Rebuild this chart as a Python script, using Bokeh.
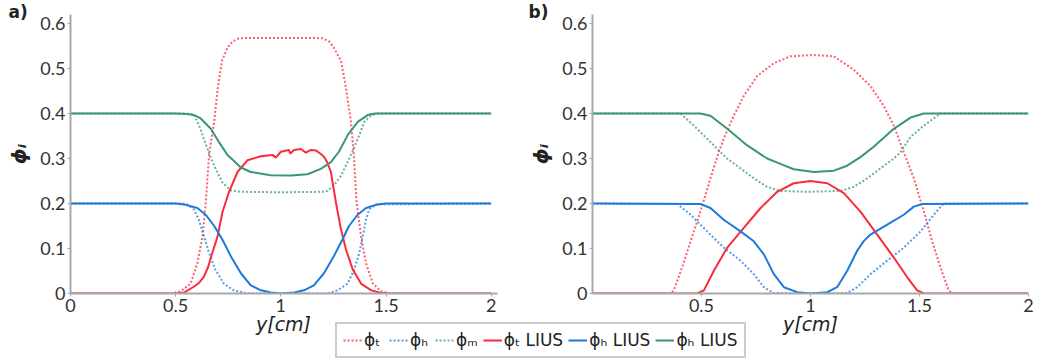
from bokeh.plotting import figure
from bokeh.models import Range1d, FixedTicker, Label, Legend, LegendItem
from bokeh.layouts import column, row
from bokeh.embed import file_html
from bokeh.resources import INLINE

# ---------------- data ----------------
# panel a)
xa_T = [0, 0.48, 0.524, 0.571, 0.603, 0.628, 0.643, 0.659, 0.683, 0.70, 0.72, 0.746, 0.77, 0.80, 0.85, 1.0,
        1.15, 1.20, 1.23, 1.252, 1.286, 1.31, 1.333, 1.347, 1.36, 1.381, 1.405, 1.438, 1.476, 1.52, 2]
ya_T = [0, 0, 0.005, 0.022, 0.067, 0.128, 0.202, 0.31, 0.382, 0.456, 0.517, 0.546, 0.560, 0.567, 0.568, 0.568,
        0.568, 0.567, 0.560, 0.546, 0.517, 0.456, 0.382, 0.308, 0.202, 0.128, 0.067, 0.022, 0.005, 0, 0]
xa_H = [0, 0.52, 0.556, 0.586, 0.61, 0.634, 0.659, 0.69, 0.729, 0.776, 0.84, 1.0, 1.22, 1.27, 1.317, 1.348,
        1.373, 1.39, 1.405, 1.42, 1.452, 2]
ya_H = [0.2, 0.2, 0.198, 0.187, 0.164, 0.128, 0.09, 0.052, 0.022, 0.007, 0, 0, 0, 0.007, 0.022, 0.052,
        0.09, 0.128, 0.164, 0.187, 0.198, 0.2]
xa_M = [0, 0.55, 0.586, 0.61, 0.634, 0.66, 0.69, 0.722, 0.762, 0.81, 1.0, 1.2, 1.22, 1.252, 1.286, 1.317,
        1.343, 1.373, 1.397, 1.429, 1.46, 2]
ya_M = [0.4, 0.4, 0.398, 0.375, 0.344, 0.31, 0.277, 0.247, 0.229, 0.226, 0.225, 0.226, 0.228, 0.24, 0.262, 0.292,
        0.318, 0.352, 0.382, 0.396, 0.4, 0.4]
xa_TL = [0, 0.50, 0.54, 0.586, 0.612, 0.634, 0.655, 0.674, 0.70, 0.722, 0.753, 0.794, 0.841, 0.905, 0.96, 0.976,
         1.0, 1.038, 1.045, 1.063, 1.095, 1.119, 1.143, 1.167, 1.19, 1.205, 1.22, 1.238, 1.262, 1.286, 1.31,
         1.343, 1.381, 1.43, 1.476, 1.52, 2]
ya_TL = [0, 0, 0.002, 0.015, 0.024, 0.037, 0.06, 0.09, 0.128, 0.18, 0.225, 0.27, 0.296, 0.305, 0.308, 0.302,
         0.315, 0.319, 0.311, 0.319, 0.321, 0.313, 0.319, 0.318, 0.31, 0.304, 0.292, 0.27, 0.202, 0.142, 0.097,
         0.052, 0.022, 0.007, 0.001, 0, 0]
xa_HL = [0, 0.50, 0.54, 0.603, 0.643, 0.683, 0.722, 0.762, 0.81, 0.857, 0.905, 0.952, 1.0, 1.063, 1.11, 1.157,
         1.205, 1.252, 1.293, 1.324, 1.365, 1.405, 1.46, 1.5, 2]
ya_HL = [0.2, 0.2, 0.198, 0.19, 0.175, 0.15, 0.12, 0.083, 0.045, 0.018, 0.007, 0.002, 0, 0.002, 0.007, 0.018,
         0.045, 0.083, 0.12, 0.15, 0.175, 0.19, 0.198, 0.2, 0.2]
xa_ML = [0, 0.50, 0.556, 0.59, 0.619, 0.667, 0.705, 0.746, 0.771, 0.81, 0.857, 0.952, 1.048, 1.127, 1.19,
         1.238, 1.276, 1.319, 1.367, 1.414, 1.45, 2]
ya_ML = [0.4, 0.4, 0.399, 0.396, 0.389, 0.366, 0.337, 0.308, 0.297, 0.28, 0.27, 0.263, 0.262, 0.265, 0.277,
         0.292, 0.315, 0.353, 0.382, 0.397, 0.4, 0.4]

# panel b)
xb_T = [0, 0.358, 0.373, 0.411, 0.45, 0.495, 0.541, 0.579, 0.602, 0.648, 0.694, 0.755, 0.832, 0.908, 1.008,
        1.107, 1.199, 1.275, 1.336, 1.382, 1.428, 1.474, 1.52, 1.558, 1.596, 1.634, 1.65, 2]
yb_T = [0, 0, 0.007, 0.058, 0.116, 0.182, 0.256, 0.314, 0.344, 0.395, 0.439, 0.483, 0.512, 0.527, 0.530,
        0.527, 0.497, 0.461, 0.417, 0.373, 0.314, 0.256, 0.182, 0.116, 0.058, 0.007, 0, 0]
xb_H = [0, 0.389, 0.45, 0.526, 0.602, 0.679, 0.74, 0.786, 0.832, 1.0, 1.168, 1.214, 1.275, 1.352, 1.428,
        1.505, 1.566, 1.604, 1.62, 2]
yb_H = [0.2, 0.199, 0.175, 0.138, 0.102, 0.073, 0.043, 0.014, 0.001, 0, 0.001, 0.014, 0.043, 0.073, 0.102,
        0.138, 0.175, 0.197, 0.2, 0.2]
xb_M = [0, 0.404, 0.465, 0.526, 0.587, 0.618, 0.679, 0.74, 0.801, 0.862, 0.985, 1.138, 1.199, 1.26, 1.321,
        1.382, 1.413, 1.459, 1.52, 1.596, 2]
yb_M = [0.4, 0.4, 0.373, 0.344, 0.314, 0.30, 0.278, 0.256, 0.237, 0.228, 0.226, 0.228, 0.237, 0.256, 0.278,
        0.30, 0.314, 0.348, 0.373, 0.4, 0.4]
xb_TL = [0, 0.48, 0.511, 0.556, 0.618, 0.694, 0.771, 0.847, 0.923, 1.0, 1.077, 1.153, 1.229, 1.306, 1.382,
         1.444, 1.489, 1.52, 2]
yb_TL = [0, 0, 0.007, 0.05, 0.102, 0.146, 0.19, 0.226, 0.245, 0.25, 0.245, 0.223, 0.182, 0.131, 0.08,
         0.036, 0.007, 0, 0]
xb_HL = [0, 0.495, 0.541, 0.602, 0.679, 0.74, 0.786, 0.832, 0.878, 0.939, 1.0, 1.077, 1.122, 1.168, 1.214,
         1.245, 1.275, 1.352, 1.428, 1.474, 1.512, 2]
yb_HL = [0.2, 0.199, 0.19, 0.164, 0.138, 0.116, 0.087, 0.043, 0.014, 0.003, 0, 0.003, 0.014, 0.05, 0.095,
         0.117, 0.131, 0.153, 0.175, 0.193, 0.199, 0.2]
xb_ML = [0, 0.495, 0.541, 0.618, 0.71, 0.801, 0.862, 0.923, 1.015, 1.107, 1.168, 1.229, 1.29, 1.382, 1.459,
         1.52, 2]
yb_ML = [0.4, 0.4, 0.395, 0.366, 0.329, 0.30, 0.288, 0.276, 0.27, 0.273, 0.284, 0.303, 0.326, 0.366, 0.391,
         0.4, 0.4]

series_labels = ["ϕₜ", "ϕₕ", "ϕₘ", "ϕₜ LIUS", "ϕₕ LIUS", "ϕₕ LIUS"]
y_ticks = [0, 0.1, 0.2, 0.3, 0.4, 0.5, 0.6]
y_tick_labels = ["0", "0.1", "0.2", "0.3", "0.4", "0.5", "0.6"]
xa_ticks = [0, 0.5, 1, 1.5, 2]
xa_tick_labels = ["0", "0.5", "1", "1.5", "2"]
xb_ticks = [0.5, 1, 1.5, 2]
xb_tick_labels = ["0.5", "1", "1.5", "2"]

RED = "#fb2a3c"
BLUE = "#1d79dc"
GREEN = "#3a9677"
colors = [RED, BLUE, GREEN, RED, BLUE, GREEN]
dashes = ["2 2", "2 2", "2 2", "solid", "solid", "solid"]
alphas = [0.75, 0.75, 0.75, 1.0, 1.0, 1.0]

TICK_FONT = "Lato"


def make_panel(width, min_left, min_right, min_top, xmax, xt, xtl, series, tag):
    p = figure(width=width, height=314, x_range=Range1d(0, xmax), y_range=Range1d(0, 0.62),
               min_border_left=min_left, min_border_right=min_right, min_border_top=min_top,
               min_border_bottom=0, output_backend="svg", toolbar_location=None)
    p.grid.visible = False
    p.outline_line_color = None
    for ax in (p.xaxis[0], p.yaxis[0]):
        ax.axis_line_color = "#a8a8a8"
        ax.axis_line_width = 2
        ax.major_tick_line_color = "#a8a8a8"
        ax.major_tick_out = 3
        ax.major_tick_in = 0
        ax.minor_tick_line_color = None
        ax.major_label_text_font = TICK_FONT
        ax.major_label_text_font_size = "18px"
        ax.major_label_text_color = "#333333"
        ax.major_label_standoff = 2
    p.xaxis.ticker = FixedTicker(ticks=xt)
    p.xaxis.major_label_overrides = dict(zip(xt, xtl))
    p.yaxis.ticker = FixedTicker(ticks=y_ticks)
    p.yaxis.major_label_overrides = dict(zip(y_ticks, y_tick_labels))
    p.yaxis.axis_label = "ϕᵢ"
    p.yaxis.axis_label_text_font = "DejaVu Sans"
    p.yaxis.axis_label_text_font_style = "bold italic"
    p.yaxis.axis_label_text_font_size = "20px"
    p.yaxis.axis_label_text_color = "#222222"
    p.yaxis.axis_label_standoff = 6
    for i in range(6):
        xs, ys = series[i]
        p.line(xs, ys, line_color=colors[i], line_width=2, line_dash=dashes[i], line_alpha=alphas[i])
    # panel tag via the title
    p.title.text = tag
    p.title.align = "left"
    p.title.offset = -(min_left - 8)
    p.title.standoff = -14
    p.title.text_font = "DejaVu Sans"
    p.title.text_font_style = "bold"
    p.title.text_font_size = "17px"
    p.title.text_color = "#222222"
    return p


pa = make_panel(520, 70, 23, 14, 2.03, xa_ticks, xa_tick_labels,
                [(xa_T, ya_T), (xa_H, ya_H), (xa_M, ya_M), (xa_TL, ya_TL), (xa_HL, ya_HL), (xa_ML, ya_ML)],
                "a)")
pb = make_panel(518, 72, 10, 11, 2.0, xb_ticks, xb_tick_labels,
                [(xb_T, yb_T), (xb_H, yb_H), (xb_M, yb_M), (xb_TL, yb_TL), (xb_HL, yb_HL), (xb_ML, yb_ML)],
                "b)")

# bottom strip: x-axis titles and the shared legend (legend proxies lie outside the visible range)
proxy_x = [-5, -4]
proxy_y = [-5, -4]
pl = figure(width=1038, height=48, x_range=Range1d(0, 1), y_range=Range1d(0, 1),
            min_border=0, x_axis_location=None, y_axis_location=None,
            output_backend="svg", toolbar_location=None)
pl.grid.visible = False
pl.outline_line_color = None
items = []
for i in range(6):
    r = pl.line(proxy_x, proxy_y, line_color=colors[i], line_width=2, line_dash=dashes[i], line_alpha=alphas[i])
    items.append(LegendItem(label=series_labels[i], renderers=[r]))
leg = Legend(items=items, orientation="horizontal", location=(335, 4),
             border_line_color="#9a9a9a", border_line_width=2, background_fill_color="white",
             label_text_font="DejaVu Sans", label_text_font_size="17px", label_text_color="#222222",
             glyph_width=19, label_standoff=2, spacing=5, padding=6, margin=0)
pl.add_layout(leg, "center")
for cx in (283, 810):
    pl.add_layout(Label(x=cx, y=39, x_units="screen", y_units="screen", text="y[cm]",
                        text_font="DejaVu Sans", text_font_style="italic", text_font_size="19px",
                        text_color="#222222", text_align="center", text_baseline="middle"))

layout = column(row(pa, pb), pl)
open("out.html", "w").write(file_html(layout, INLINE))
